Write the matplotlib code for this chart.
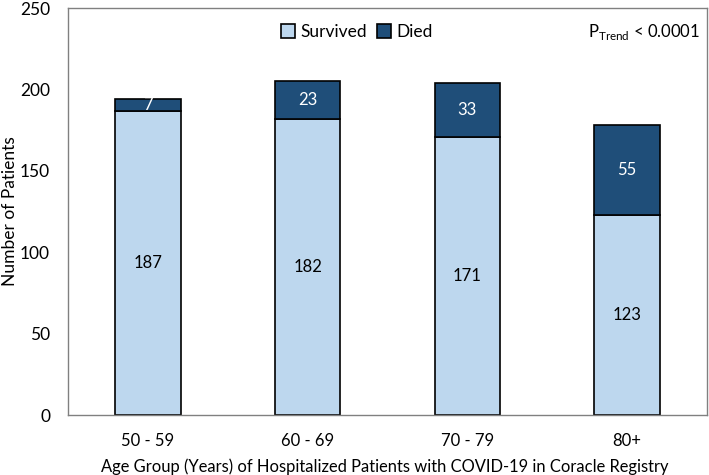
import matplotlib
matplotlib.use("Agg")
import matplotlib.pyplot as plt
from matplotlib.patches import Patch

plt.rcParams['font.family'] = ['Lato', 'DejaVu Sans']

categories = ["50 - 59", "60 - 69", "70 - 79", "80+"]
survived = [187, 182, 171, 123]
died = [7, 23, 33, 55]

light = "#BDD7EE"
dark = "#1F4E79"

fig = plt.figure(figsize=(7.09, 4.75), dpi=100)
ax = fig.add_axes([0.096, 0.126, 0.901, 0.857])

x = range(len(categories))
w = 0.41
ax.bar(x, survived, width=w, color=light, edgecolor="black", linewidth=1.2, label="Survived")
ax.bar(x, died, width=w, bottom=survived, color=dark, edgecolor="black", linewidth=1.2, label="Died")

for i in x:
    ax.text(i, survived[i] / 2, str(survived[i]), ha="center", va="center", fontsize=12, color="black")
    ax.text(i, survived[i] + died[i] / 2, str(died[i]), ha="center", va="center", fontsize=12, color="white")

ax.set_ylim(0, 250)
ax.set_xlim(-0.5, 3.5)
ax.set_yticks([0, 50, 100, 150, 200, 250])
ax.set_xticks(list(x))
ax.set_xticklabels(categories)
ax.tick_params(axis="both", length=0, labelsize=12.5)
ax.tick_params(axis="x", labelsize=12)
ax.tick_params(axis="y", pad=13)
ax.tick_params(axis="x", pad=13)
for s in ax.spines.values():
    s.set_color("#808080")
    s.set_linewidth(1.0)

ax.set_ylabel("Number of Patients", fontsize=12.5)
ax.yaxis.set_label_coords(-0.078, 0.5)
ax.set_xlabel("Age Group (Years) of Hospitalized Patients with COVID-19 in Coracle Registry", fontsize=11.9)
ax.xaxis.set_label_coords(0.496, -0.106)

handles = [Patch(facecolor=light, edgecolor="black", linewidth=1.2, label="Survived"),
           Patch(facecolor=dark, edgecolor="black", linewidth=1.2, label="Died")]
ax.legend(handles=handles, loc="center", bbox_to_anchor=(0.452, 0.941), ncol=2, frameon=False,
          fontsize=12.5, handlelength=0.8, handleheight=0.8, handletextpad=0.3, columnspacing=0.6,
          borderpad=0)

ax.text(0.99, 0.941, r"P$_{\mathregular{Trend}}$ < 0.0001", transform=ax.transAxes, ha="right", va="center", fontsize=12)

fig.savefig("out.png", dpi=100)
